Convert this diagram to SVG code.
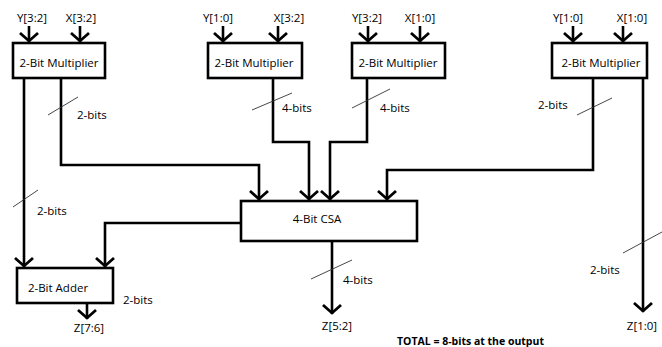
<svg xmlns="http://www.w3.org/2000/svg" width="662" height="347" viewBox="0 0 662 347">
<defs>
<style>
.box{fill:#fff;stroke:#000;stroke-width:2.6}
.w{fill:none;stroke:#000;stroke-width:2.6;stroke-linejoin:miter}
.sl{stroke:#333;stroke-width:0.9}
text{font-family:"Open Sans","Liberation Sans",sans-serif;font-size:11.5px;fill:#000}
.c{text-anchor:middle}
.b{font-weight:bold;font-size:10.5px}
</style>
<marker id="arr" markerUnits="userSpaceOnUse" markerWidth="26" markerHeight="26" viewBox="-13 -13 26 26" refX="1" refY="0" orient="auto">
<path d="M-8,-9 L0,0 L-8,9" fill="none" stroke="#000" stroke-width="2.8"/>
</marker>
</defs>
<rect width="662" height="347" fill="#fff"/>

<g id="connectors">
<line class="w" x1="29" y1="26" x2="29" y2="42" marker-end="url(#arr)"/>
<line class="w" x1="80" y1="26" x2="80" y2="42" marker-end="url(#arr)"/>
<line class="w" x1="223" y1="26" x2="223" y2="42" marker-end="url(#arr)"/>
<line class="w" x1="278" y1="26" x2="278" y2="42" marker-end="url(#arr)"/>
<line class="w" x1="368" y1="26" x2="368" y2="42" marker-end="url(#arr)"/>
<line class="w" x1="420" y1="26" x2="420" y2="42" marker-end="url(#arr)"/>
<line class="w" x1="573" y1="26" x2="573" y2="42" marker-end="url(#arr)"/>
<line class="w" x1="623" y1="26" x2="623" y2="42" marker-end="url(#arr)"/>
<polyline class="w" points="24,78 24,267" marker-end="url(#arr)"/>
<polyline class="w" points="61,78 61,165 259,165 259,200" marker-end="url(#arr)"/>
<polyline class="w" points="273,78 273,142 309,142 309,200" marker-end="url(#arr)"/>
<polyline class="w" points="367,78 367,142 330,142 330,200" marker-end="url(#arr)"/>
<polyline class="w" points="593,78 593,170 387,170 387,200" marker-end="url(#arr)"/>
<polyline class="w" points="643,78 643,312" marker-end="url(#arr)"/>
<polyline class="w" points="241,223 105,223 105,267" marker-end="url(#arr)"/>
<polyline class="w" points="332,241 332,314" marker-end="url(#arr)"/>
<polyline class="w" points="87,303 87,319" marker-end="url(#arr)"/>
<line class="sl" x1="48" y1="115" x2="78" y2="97"/>
<line class="sl" x1="252" y1="110" x2="292" y2="93"/>
<line class="sl" x1="352" y1="108" x2="390" y2="89"/>
<line class="sl" x1="577" y1="115" x2="612" y2="98"/>
<line class="sl" x1="13" y1="207" x2="38" y2="190"/>
<line class="sl" x1="311" y1="279" x2="352" y2="260"/>
<line class="sl" x1="623" y1="253" x2="662" y2="232"/>
</g>

<g id="mult1">
<rect class="box" x="13" y="43" width="92" height="35"/>
<text class="c" x="59" y="67">2-Bit Multiplier</text>
</g>
<g id="mult2">
<rect class="box" x="208" y="43" width="94" height="35"/>
<text class="c" x="254" y="67">2-Bit Multiplier</text>
</g>
<g id="mult3">
<rect class="box" x="352" y="43" width="93" height="35"/>
<text class="c" x="398" y="67">2-Bit Multiplier</text>
</g>
<g id="mult4">
<rect class="box" x="552" y="43" width="95" height="35"/>
<text class="c" x="601" y="67">2-Bit Multiplier</text>
</g>
<g id="csa">
<rect class="box" x="241" y="201" width="176" height="40"/>
<text class="c" x="317" y="223">4-Bit CSA</text>
</g>
<g id="adder">
<rect class="box" x="17" y="268" width="96" height="35"/>
<text class="c" x="58" y="292">2-Bit Adder</text>
</g>

<g id="labels">
<text class="c" x="32" y="22">Y[3:2]</text>
<text class="c" x="81" y="22">X[3:2]</text>
<text class="c" x="218" y="22">Y[1:0]</text>
<text class="c" x="289" y="22">X[3:2]</text>
<text class="c" x="367" y="22">Y[3:2]</text>
<text class="c" x="420" y="22">X[1:0]</text>
<text class="c" x="568" y="22">Y[1:0]</text>
<text class="c" x="632" y="22">X[1:0]</text>
<text x="77" y="119">2-bits</text>
<text x="282" y="112">4-bits</text>
<text x="380" y="112">4-bits</text>
<text x="538" y="109">2-bits</text>
<text x="37" y="215">2-bits</text>
<text x="123" y="304">2-bits</text>
<text x="343" y="284">4-bits</text>
<text x="590" y="274">2-bits</text>
<text class="c" x="89" y="332">Z[7:6]</text>
<text class="c" x="337" y="330">Z[5:2]</text>
<text class="c" x="642" y="330">Z[1:0]</text>
<text class="b" x="397" y="345">TOTAL = 8-bits at the output</text>
</g>
</svg>
